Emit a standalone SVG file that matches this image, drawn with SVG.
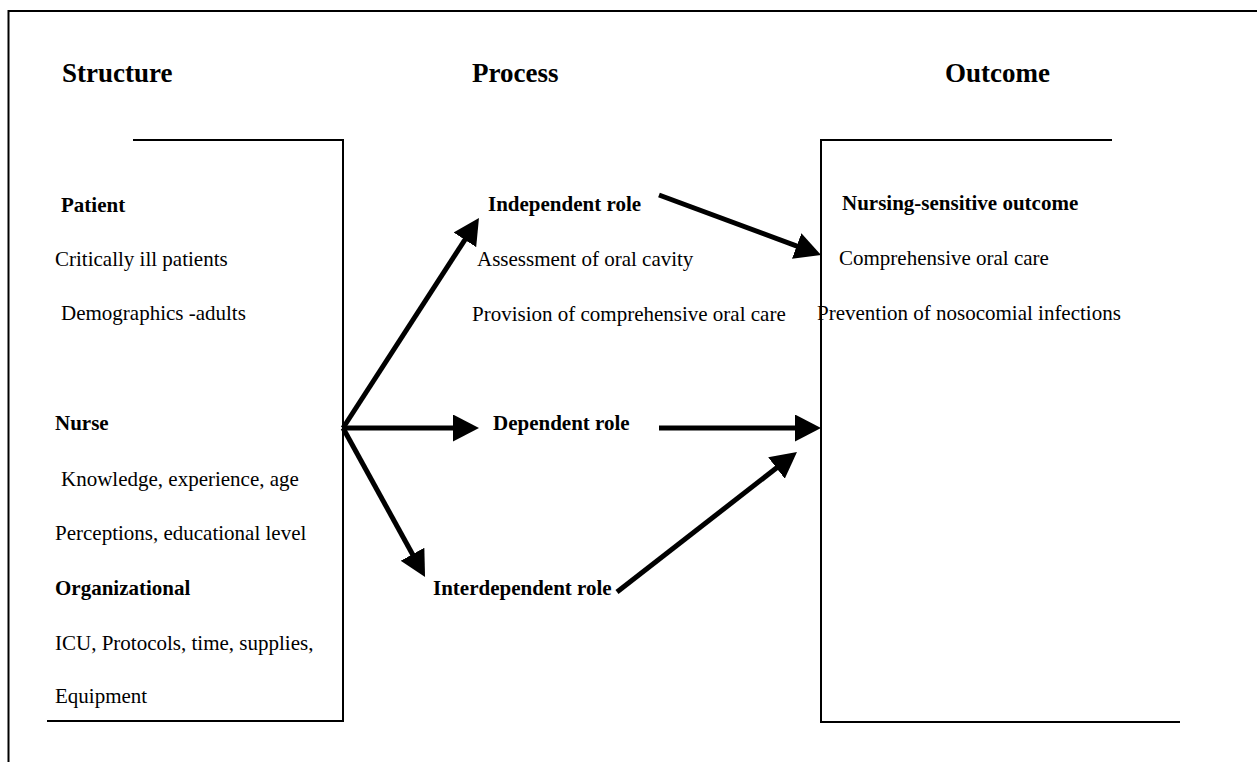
<svg xmlns="http://www.w3.org/2000/svg" width="1257" height="764" viewBox="0 0 1257 764">
<style>
.frame{fill:none;stroke:#000;stroke-width:2}
.arrow{fill:none;stroke:#000;stroke-width:5;marker-end:url(#ah)}
text{font-family:"Liberation Serif","Times New Roman",serif;fill:#000}
.h{font-size:27px;font-weight:bold}
.b{font-size:21px;font-weight:bold}
.t{font-size:21px}
</style>
<defs>
<marker id="ah" markerUnits="userSpaceOnUse" markerWidth="28" markerHeight="28" refX="6" refY="13.5" orient="auto">
<path d="M0,0 L26,13.5 L0,27 z" fill="#000"/>
</marker>
</defs>
<rect width="1257" height="764" fill="#fff"/>
<g id="outer-frame">
<polyline class="frame" points="1257,11 8.5,11 8.5,762"/>
</g>
<g id="headings">
<text class="h" x="62" y="82">Structure</text>
<text class="h" x="472" y="82">Process</text>
<text class="h" x="945" y="82">Outcome</text>
</g>
<g id="structure">
<polyline class="frame" points="133,140 343,140 343,721 47,721"/>
<text class="b" x="61" y="212">Patient</text>
<text class="t" x="55" y="266">Critically ill patients</text>
<text class="t" x="61" y="320">Demographics -adults</text>
<text class="b" x="55" y="430">Nurse</text>
<text class="t" x="61" y="486">Knowledge, experience, age</text>
<text class="t" x="55" y="540">Perceptions, educational level</text>
<text class="b" x="55" y="595">Organizational</text>
<text class="t" x="55" y="650">ICU, Protocols, time, supplies,</text>
<text class="t" x="55" y="703">Equipment</text>
</g>
<g id="independent-role">
<text class="b" x="488" y="211">Independent role</text>
<text class="t" x="477" y="266">Assessment of oral cavity</text>
<text class="t" x="472" y="321">Provision of comprehensive oral care</text>
</g>
<g id="dependent-role">
<text class="b" x="493" y="430">Dependent role</text>
</g>
<g id="interdependent-role">
<text class="b" x="433" y="595">Interdependent role</text>
</g>
<g id="outcome">
<polyline class="frame" points="1112,140 821,140 821,722 1180,722"/>
<text class="b" x="842" y="210">Nursing-sensitive outcome</text>
<text class="t" x="839" y="265">Comprehensive oral care</text>
<text class="t" x="817" y="320">Prevention of nosocomial infections</text>
</g>
<g id="connectors">
<line class="arrow" x1="343" y1="428" x2="468.1" y2="234.8"/>
<line class="arrow" x1="343" y1="428" x2="459" y2="428"/>
<line class="arrow" x1="343" y1="428" x2="415.4" y2="559.5"/>
<line class="arrow" x1="659" y1="195" x2="802.3" y2="248.1"/>
<line class="arrow" x1="659" y1="428" x2="801" y2="428"/>
<line class="arrow" x1="617" y1="592" x2="781.2" y2="464.3"/>
</g>
</svg>
